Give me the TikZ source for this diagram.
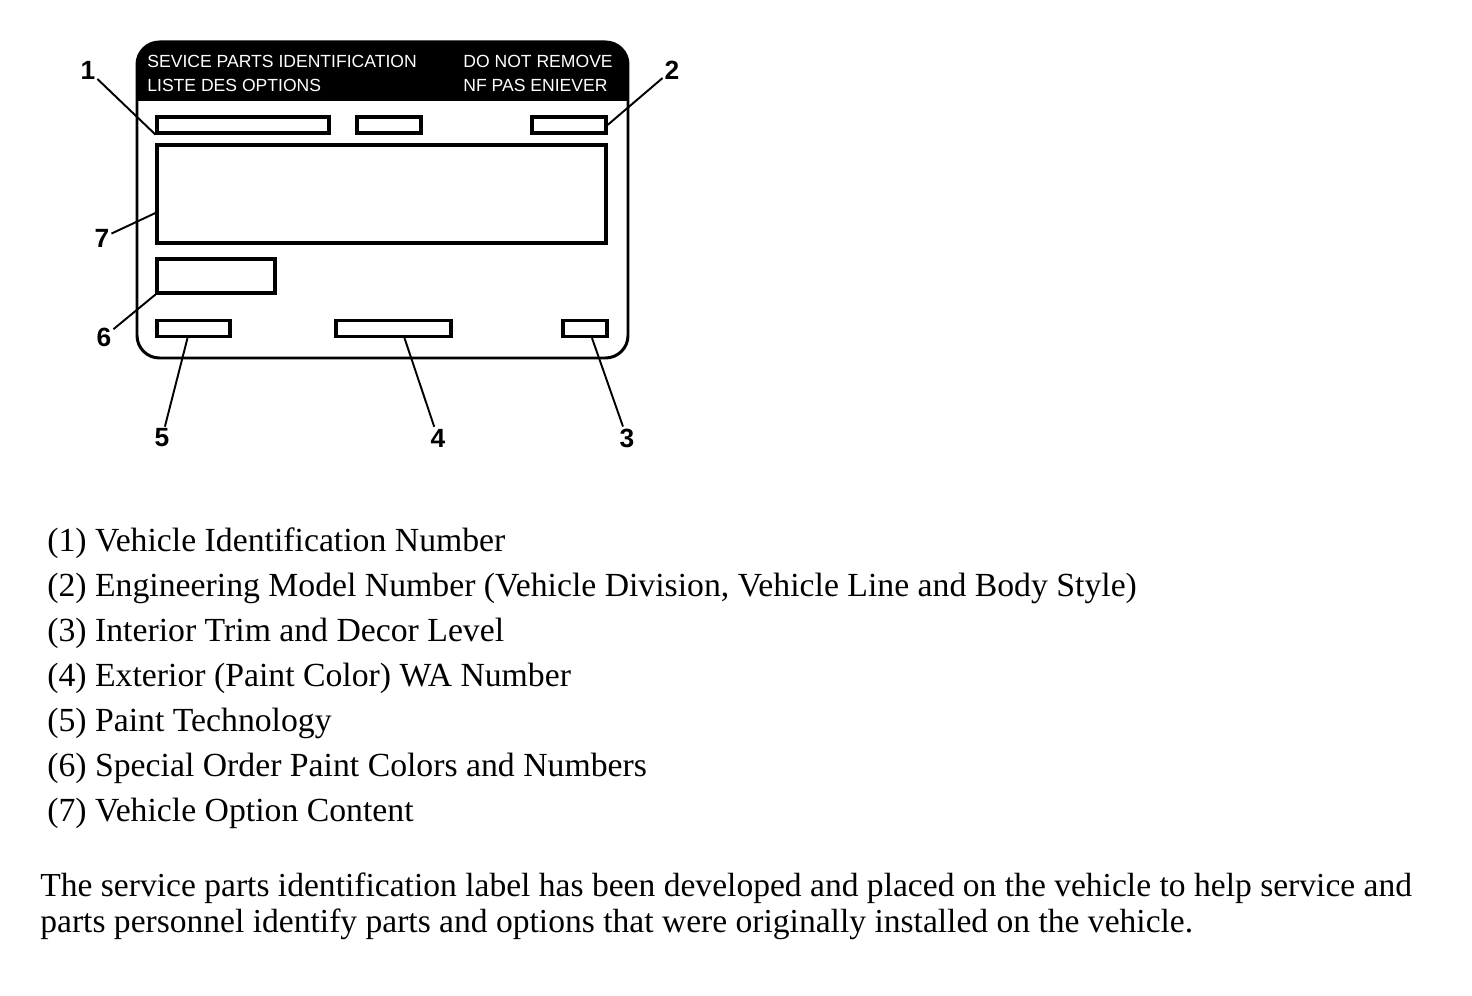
\documentclass[tikz,border=0pt]{standalone}
\usepackage{fontspec}
\setmainfont{Liberation Serif}
\setsansfont{Liberation Sans}
\usetikzlibrary{calc}

\begin{document}
\begin{tikzpicture}[
        x=0.02cm, y=-0.02cm,
        field/.style={rectangle, draw=black, line width=1.8pt, inner sep=0pt, minimum height=0.32cm},
        callout/.style={font=\sffamily\bfseries\fontsize{15}{15}\selectfont, inner sep=1pt},
        leader/.style={line width=1.1pt},
        header/.style={text=white, font=\sffamily\fontsize{10}{10}\selectfont, anchor=west, inner sep=0pt},
        legend/.style={anchor=base west, inner sep=0pt, font=\fontsize{19.2}{25.5}\selectfont}
    ]
    \useasboundingbox (0,0) rectangle (1472,996);

    % Label outline with black header
    \begin{scope}
        \clip (137,42) rectangle (628,101);
        \fill[rounded corners=0.5cm] (137,42) rectangle (628,358);
    \end{scope}
    \draw[line width=1.7pt, rounded corners=0.45cm] (137,42) rectangle (628,358);

    \node[header] (title) at (147,61) {SEVICE PARTS IDENTIFICATION};
    \node[header] (liste) at (147,85) {LISTE DES OPTIONS};
    \node[header] (keep) at (463,61) {DO NOT REMOVE};
    \node[header] (garder) at (463,85) {NF PAS ENIEVER};

    % Fields
    \node[field, minimum width=3.44cm] (vin) at (243,125) {};
    \node[field, minimum width=1.28cm] (blank) at (389,125) {};
    \node[field, minimum width=1.48cm] (model) at (569,125) {};
    \node[field, minimum width=8.98cm, minimum height=1.96cm] (options) at (381.5,194) {};
    \node[field, minimum width=2.36cm, minimum height=0.68cm] (special) at (216,276) {};
    \node[field, minimum width=1.46cm] (tech) at (193.5,328.5) {};
    \node[field, minimum width=2.3cm] (paint) at (393.5,328.5) {};
    \node[field, minimum width=0.88cm] (trim) at (585,328.5) {};

    % Callouts
    \node[callout] (c1) at (88,70) {1};
    \node[callout] (c2) at (672,70) {2};
    \node[callout] (c7) at (102,238) {7};
    \node[callout] (c6) at (104,337) {6};
    \node[callout] (c5) at (162,438) {5};
    \node[callout] (c4) at (438,438) {4};
    \node[callout] (c3) at (627,438) {3};

    \draw[leader] (c1) -- (vin.south west);
    \draw[leader] (c2) -- (model.east);
    \draw[leader] (c7) -- ($(options.west)+(0,19)$);
    \draw[leader] (c6) -- (special.south west);
    \draw[leader] (c5) -- ($(tech.south)-(6,0)$);
    \draw[leader] (c4) -- ($(paint.south)+(11,0)$);
    \draw[leader] (c3) -- ($(trim.south)+(7,0)$);

    % Legend
    \node[legend] (leg1) at (47,552) {(1) Vehicle Identification Number};
    \node[legend] (leg2) at (47,597) {(2) Engineering Model Number (Vehicle Division, Vehicle Line and Body Style)};
    \node[legend] (leg3) at (47,642) {(3) Interior Trim and Decor Level};
    \node[legend] (leg4) at (47,687) {(4) Exterior (Paint Color) WA Number};
    \node[legend] (leg5) at (47,732) {(5) Paint Technology};
    \node[legend] (leg6) at (47,777) {(6) Special Order Paint Colors and Numbers};
    \node[legend] (leg7) at (47,822) {(7) Vehicle Option Content};

    \node[anchor=base west, inner sep=0pt, align=left, font=\fontsize{19.1}{20.4}\selectfont] (note) at (40,932)
        {The service parts identification label has been developed and placed on the vehicle to help service and\\
         parts personnel identify parts and options that were originally installed on the vehicle.};

\end{tikzpicture}
\end{document}
